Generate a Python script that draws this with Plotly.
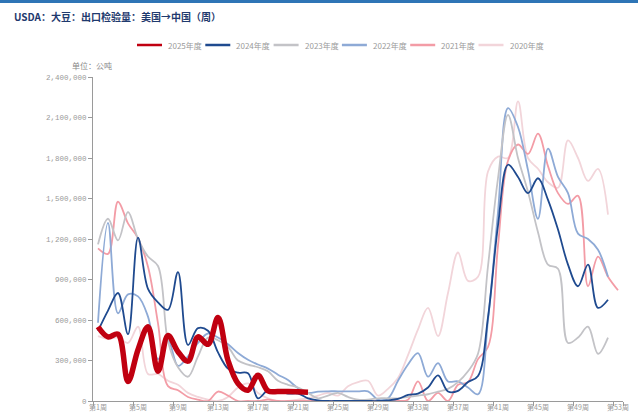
import plotly.graph_objs as go

# 周次与刻度
weeks = list(range(1, 54))
tick_weeks = list(range(1, 54, 4))
tick_text = ['第%d周' % w for w in tick_weeks]

# 各年度出口检验量（千公吨），按周
y2025 = [550, 475, 495, 145, 380, 550, 220, 485, 365, 295, 475, 420, 618, 300, 130,
         80, 190, 75, 70, 70, 68, 65]
y2024 = [520, 670, 800, 495, 1210, 830, 730, 675, 955, 415, 540, 520, 360, 240, 210,
         205, 20, 80, 70, 55, 55, 20, 5, 0, 0, 0, 0, 0, 0, 5, 15, 45, 55, 100, 190,
         70, 75, 140, 185, 620, 1300, 1750, 1660, 1540, 1650, 1490, 1270, 1010, 850,
         1010, 690, 750]
y2023 = [1160, 1350, 1190, 1400, 1200, 1070, 1000, 440, 250, 180, 330, 470, 450, 400,
         300, 270, 250, 220, 150, 120, 100, 60, 20, 40, 60, 30, 10, 10, 20, 20, 20, 30,
         40, 50, 70, 90, 140, 220, 350, 1000, 1650, 2120, 1800, 1550, 1250, 1010, 980,
         430, 470, 550, 350, 470]
y2022 = [580, 1320, 650, 790, 775, 625, 310, 450, 260, 330, 430, 500, 470, 420, 355,
         305, 270, 240, 195, 155, 95, 60, 70, 72, 72, 72, 72, 72, 10, 20, 150, 270, 355,
         180, 280, 145, 145, 100, 50, 600, 1400, 2170, 2030, 1710, 1350, 1870, 1660,
         1540, 1240, 1200, 1120, 920]
y2021 = [1130, 1090, 1476, 1316, 1205, 995, 575, 110, 80, 30, 10, 0, 70, 40, 0, 0, 0,
         10, 0, 0, 0, 0, 0, 0, 0, 0, 0, 0, 0, 0, 0, 10, 145, 0, 60, 0, 120, 140, 310,
         400, 1150, 1780, 1900, 1830, 1980, 1740, 1540, 1460, 1520, 850, 1070, 920, 820]
y2020 = [480, 460, 470, 430, 550, 200, 200, 150, 120, 60, 30, 10, 0, 30, 100, 130, 60,
         20, 0, 0, 10, 20, 40, 60, 40, 110, 140, 150, 40, 90, 170, 340, 530, 690, 480,
         800, 1100, 890, 920, 1700, 1810, 1800, 2220, 1800, 1720, 1620, 1580, 1930,
         1800, 1630, 1720, 1380]

# (名称, 数据, 颜色, 线宽) — 绘制顺序：2025 在最上层
series = [
    ('2020年度', y2020, '#f2d5da', 1.8),
    ('2021年度', y2021, '#f39ca6', 1.8),
    ('2022年度', y2022, '#8eaad6', 1.8),
    ('2023年度', y2023, '#c3c3c7', 1.8),
    ('2024年度', y2024, '#1f4a8f', 1.8),
    ('2025年度', y2025, '#c00010', 5.5),
]
legend_order = ['2025年度', '2024年度', '2023年度', '2022年度', '2021年度', '2020年度']

W, H = 638, 416
L, R, T, B = 93, 15, 77, 15
PW, PH = W - L - R, H - T - B


def px_x(px):
    return (px - L) / PW


def px_y(py):
    return (H - B - py) / PH


fig = go.Figure()
for name, vals, color, width in series:
    fig.add_trace(go.Scatter(
        x=weeks[:len(vals)],
        y=[v * 1000 for v in vals],
        mode='lines',
        name=name,
        line=dict(color=color, width=width, shape='spline', smoothing=1.0),
        hoverinfo='skip',
        showlegend=False
    ))

# 图例（手工绘制，贴合原图间距）
colors = {name: color for name, _, color, _ in series}
shapes = [
    dict(type='rect', xref='paper', yref='paper',
         x0=px_x(0), x1=px_x(W), y0=px_y(3), y1=px_y(0),
         fillcolor='#2e75b6', line=dict(width=0), layer='above')
]
annotations = [
    dict(text='<b>USDA：大豆：出口检验量：美国→中国（周）</b>',
         xref='paper', yref='paper', x=px_x(12), y=px_y(16),
         xanchor='left', yanchor='middle', showarrow=False,
         font=dict(size=10, color='#1f3a6e')),
    dict(text='单位：公吨',
         xref='paper', yref='paper', x=px_x(92), y=px_y(65),
         xanchor='center', yanchor='middle', showarrow=False,
         font=dict(size=8, color='#888888')),
]
for i, name in enumerate(legend_order):
    x0 = 137 + i * 68.3
    shapes.append(dict(type='line', xref='paper', yref='paper',
                       x0=px_x(x0), x1=px_x(x0 + 25), y0=px_y(45), y1=px_y(45),
                       line=dict(color=colors[name], width=2.5)))
    annotations.append(dict(text=name, xref='paper', yref='paper',
                            x=px_x(x0 + 29), y=px_y(45),
                            xanchor='left', yanchor='middle', showarrow=False,
                            font=dict(size=8, color='#9a9a9a')))

fig.update_layout(
    width=W, height=H,
    margin=dict(l=L, r=R, t=T, b=B),
    paper_bgcolor='white',
    plot_bgcolor='white',
    font=dict(family='Noto Sans CJK SC', size=8, color='#999999'),
    showlegend=False,
    xaxis=dict(
        range=[0.5, 53.5],
        automargin=False,
        tickmode='array',
        tickvals=tick_weeks,
        ticktext=tick_text,
        ticks='',
        showgrid=False,
        zeroline=False,
        showline=True,
        linecolor='#9a9a9a',
        linewidth=1,
        tickfont=dict(size=7, color='#999999'),
        minor=dict(
            tickmode='array',
            tickvals=[w - 0.5 for w in tick_weeks] + [53.5],
            ticks='outside',
            ticklen=4,
            tickcolor='#9a9a9a',
            showgrid=False
        )
    ),
    yaxis=dict(
        range=[0, 2400000],
        automargin=False,
        tick0=0,
        dtick=300000,
        tickformat=',',
        ticks='outside',
        ticklen=4,
        tickcolor='#9a9a9a',
        showgrid=False,
        zeroline=False,
        showline=True,
        linecolor='#9a9a9a',
        linewidth=1,
        tickfont=dict(family='Liberation Mono', size=7.5, color='#999999')
    ),
    shapes=shapes,
    annotations=annotations
)

# 页面不留边距，图表固定在窗口左上角
pin = ("document.body.style.margin='0';"
       "var d=document.getElementById('{plot_id}');"
       "d.style.position='fixed';d.style.left='0';d.style.top='0';")

fig.write_html("out.html", config={'displayModeBar': False}, post_script=pin)
